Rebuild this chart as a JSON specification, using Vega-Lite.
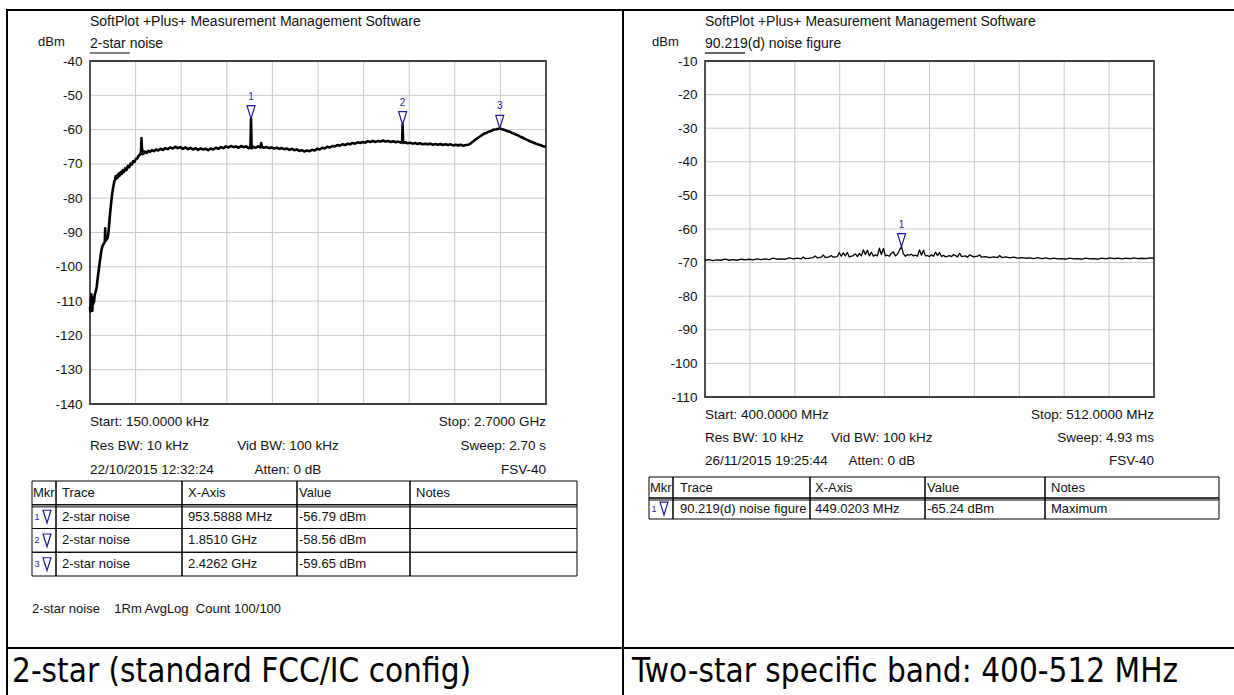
{
"$schema": "https://vega.github.io/schema/vega-lite/v6.json",
"background": "white",
"padding": {"left": 6, "top": 9, "right": 0, "bottom": 0},
"columns": 2,
"spacing": 0,
"bounds": "flush",
"config": {
  "view": {"stroke": "black", "strokeWidth": 2},
  "font": "Liberation Sans",
  "text": {"font": "Liberation Sans", "fontSize": 13.5, "color": "#111111"}
},
"datasets": {
  "left_trace": [
    {"f":0.0002,"v":-111.8},{"f":0.002,"v":-113.0},{"f":0.004,"v":-109.5},{"f":0.006,"v":-112.5},{"f":0.008,"v":-108.0},{"f":0.010,"v":-111.5},{"f":0.012,"v":-110.0},{"f":0.014,"v":-112.8},{"f":0.016,"v":-109.0},{"f":0.018,"v":-111.0},{"f":0.020,"v":-109.6},{"f":0.024,"v":-110.3},{"f":0.028,"v":-108.2},{"f":0.032,"v":-107.6},{"f":0.036,"v":-106.8},{"f":0.040,"v":-105.8},{"f":0.044,"v":-104.0},{"f":0.048,"v":-102.4},{"f":0.052,"v":-100.8},{"f":0.056,"v":-99.4},{"f":0.060,"v":-98.0},{"f":0.064,"v":-96.4},{"f":0.068,"v":-95.2},{"f":0.072,"v":-94.3},{"f":0.076,"v":-93.8},{"f":0.080,"v":-93.4},{"f":0.084,"v":-93.1},{"f":0.088,"v":-92.6},{"f":0.090,"v":-88.8},{"f":0.092,"v":-92.4},{"f":0.096,"v":-92.2},{"f":0.100,"v":-91.9},{"f":0.104,"v":-91.6},{"f":0.108,"v":-90.6},{"f":0.112,"v":-88.6},{"f":0.116,"v":-86.2},{"f":0.120,"v":-84.0},{"f":0.124,"v":-82.0},{"f":0.128,"v":-80.2},{"f":0.132,"v":-78.6},{"f":0.136,"v":-77.2},{"f":0.140,"v":-76.2},{"f":0.144,"v":-75.0},{"f":0.148,"v":-74.8},{"f":0.152,"v":-73.6},{"f":0.156,"v":-74.3},{"f":0.160,"v":-73.4},{"f":0.165,"v":-74.0},{"f":0.170,"v":-72.8},{"f":0.176,"v":-73.4},{"f":0.182,"v":-72.4},{"f":0.188,"v":-72.9},{"f":0.194,"v":-71.9},{"f":0.200,"v":-72.4},{"f":0.208,"v":-71.3},{"f":0.216,"v":-71.8},{"f":0.224,"v":-70.6},{"f":0.232,"v":-71.0},{"f":0.240,"v":-69.9},{"f":0.248,"v":-70.2},{"f":0.256,"v":-69.2},{"f":0.264,"v":-69.4},{"f":0.272,"v":-68.5},{"f":0.280,"v":-68.4},{"f":0.288,"v":-67.6},{"f":0.296,"v":-67.3},{"f":0.302,"v":-66.6},{"f":0.305,"v":-62.5},{"f":0.307,"v":-64.6},{"f":0.309,"v":-67.2},{"f":0.312,"v":-66.1},{"f":0.318,"v":-67.0},{"f":0.326,"v":-66.4},{"f":0.336,"v":-66.8},{"f":0.346,"v":-66.2},{"f":0.356,"v":-66.5},{"f":0.366,"v":-66.0},{"f":0.378,"v":-66.3},{"f":0.390,"v":-65.8},{"f":0.404,"v":-66.1},{"f":0.418,"v":-65.6},{"f":0.432,"v":-65.9},{"f":0.446,"v":-65.4},{"f":0.460,"v":-65.7},{"f":0.474,"v":-65.2},{"f":0.490,"v":-65.5},{"f":0.505,"v":-65.0},{"f":0.520,"v":-65.4},{"f":0.535,"v":-65.1},{"f":0.550,"v":-65.6},{"f":0.565,"v":-65.2},{"f":0.580,"v":-65.7},{"f":0.595,"v":-65.3},{"f":0.610,"v":-65.8},{"f":0.625,"v":-65.4},{"f":0.640,"v":-65.9},{"f":0.655,"v":-65.5},{"f":0.670,"v":-65.8},{"f":0.685,"v":-65.6},{"f":0.700,"v":-66.0},{"f":0.715,"v":-65.5},{"f":0.730,"v":-65.8},{"f":0.745,"v":-65.3},{"f":0.760,"v":-65.6},{"f":0.775,"v":-65.1},{"f":0.790,"v":-65.4},{"f":0.805,"v":-64.9},{"f":0.820,"v":-65.2},{"f":0.835,"v":-64.8},{"f":0.850,"v":-65.1},{"f":0.865,"v":-64.9},{"f":0.880,"v":-65.3},{"f":0.895,"v":-64.8},{"f":0.910,"v":-65.1},{"f":0.925,"v":-64.9},{"f":0.940,"v":-65.4},{"f":0.950,"v":-65.2},{"f":0.9536,"v":-56.79},{"f":0.957,"v":-65.5},{"f":0.965,"v":-65.0},{"f":0.980,"v":-65.3},{"f":0.995,"v":-64.9},{"f":1.010,"v":-65.2},{"f":1.014,"v":-63.9},{"f":1.018,"v":-65.0},{"f":1.030,"v":-65.3},{"f":1.045,"v":-65.1},{"f":1.060,"v":-65.4},{"f":1.075,"v":-65.2},{"f":1.090,"v":-65.5},{"f":1.105,"v":-65.3},{"f":1.120,"v":-65.6},{"f":1.135,"v":-65.4},{"f":1.150,"v":-65.7},{"f":1.165,"v":-65.5},{"f":1.180,"v":-65.9},{"f":1.195,"v":-65.6},{"f":1.210,"v":-66.0},{"f":1.225,"v":-65.8},{"f":1.240,"v":-66.2},{"f":1.255,"v":-66.0},{"f":1.270,"v":-66.4},{"f":1.285,"v":-66.1},{"f":1.300,"v":-66.3},{"f":1.315,"v":-65.9},{"f":1.330,"v":-66.1},{"f":1.345,"v":-65.6},{"f":1.360,"v":-65.8},{"f":1.375,"v":-65.3},{"f":1.390,"v":-65.5},{"f":1.405,"v":-65.0},{"f":1.420,"v":-65.2},{"f":1.435,"v":-64.8},{"f":1.450,"v":-64.9},{"f":1.465,"v":-64.5},{"f":1.480,"v":-64.7},{"f":1.495,"v":-64.3},{"f":1.510,"v":-64.5},{"f":1.525,"v":-64.1},{"f":1.540,"v":-64.3},{"f":1.555,"v":-63.9},{"f":1.570,"v":-64.1},{"f":1.585,"v":-63.7},{"f":1.600,"v":-63.9},{"f":1.615,"v":-63.6},{"f":1.630,"v":-63.8},{"f":1.645,"v":-63.4},{"f":1.660,"v":-63.6},{"f":1.675,"v":-63.3},{"f":1.690,"v":-63.6},{"f":1.705,"v":-63.3},{"f":1.720,"v":-63.5},{"f":1.735,"v":-63.2},{"f":1.750,"v":-63.5},{"f":1.765,"v":-63.3},{"f":1.780,"v":-63.6},{"f":1.795,"v":-63.4},{"f":1.810,"v":-63.7},{"f":1.825,"v":-63.5},{"f":1.840,"v":-63.8},{"f":1.848,"v":-63.6},{"f":1.851,"v":-58.56},{"f":1.854,"v":-63.9},{"f":1.865,"v":-63.7},{"f":1.880,"v":-64.0},{"f":1.895,"v":-63.8},{"f":1.910,"v":-64.1},{"f":1.925,"v":-63.9},{"f":1.940,"v":-64.2},{"f":1.955,"v":-64.0},{"f":1.970,"v":-64.3},{"f":1.985,"v":-64.1},{"f":2.000,"v":-64.3},{"f":2.015,"v":-64.1},{"f":2.030,"v":-64.4},{"f":2.045,"v":-64.2},{"f":2.060,"v":-64.4},{"f":2.075,"v":-64.2},{"f":2.090,"v":-64.5},{"f":2.105,"v":-64.3},{"f":2.120,"v":-64.5},{"f":2.135,"v":-64.3},{"f":2.150,"v":-64.6},{"f":2.165,"v":-64.4},{"f":2.180,"v":-64.6},{"f":2.195,"v":-64.4},{"f":2.210,"v":-64.7},{"f":2.225,"v":-64.5},{"f":2.240,"v":-64.4},{"f":2.255,"v":-64.0},{"f":2.270,"v":-63.4},{"f":2.285,"v":-62.8},{"f":2.300,"v":-62.3},{"f":2.315,"v":-61.8},{"f":2.330,"v":-61.3},{"f":2.345,"v":-61.0},{"f":2.360,"v":-60.6},{"f":2.375,"v":-60.4},{"f":2.390,"v":-60.0},{"f":2.405,"v":-59.9},{"f":2.4262,"v":-59.65},{"f":2.440,"v":-59.9},{"f":2.455,"v":-60.1},{"f":2.470,"v":-60.4},{"f":2.485,"v":-60.6},{"f":2.500,"v":-61.0},{"f":2.515,"v":-61.3},{"f":2.530,"v":-61.6},{"f":2.545,"v":-62.0},{"f":2.560,"v":-62.3},{"f":2.575,"v":-62.7},{"f":2.590,"v":-63.0},{"f":2.605,"v":-63.4},{"f":2.620,"v":-63.7},{"f":2.635,"v":-64.0},{"f":2.650,"v":-64.3},{"f":2.665,"v":-64.5},{"f":2.680,"v":-64.8},{"f":2.700,"v":-65.1}
  ],
  "right_trace": [
    {"f":400,"v":-69.3},{"f":401,"v":-69.1},{"f":402,"v":-69.4},{"f":403,"v":-69.2},{"f":404,"v":-69.3},{"f":405,"v":-69.0},{"f":406,"v":-69.3},{"f":407,"v":-69.1},{"f":408,"v":-69.3},{"f":409,"v":-69.0},{"f":410,"v":-69.2},{"f":411,"v":-69.0},{"f":412,"v":-69.2},{"f":413,"v":-68.9},{"f":414,"v":-69.1},{"f":415,"v":-68.9},{"f":416,"v":-69.1},{"f":417,"v":-68.7},{"f":418,"v":-69.0},{"f":419,"v":-68.9},{"f":420,"v":-69.0},{"f":421,"v":-68.6},{"f":422,"v":-68.9},{"f":423,"v":-68.7},{"f":424,"v":-68.9},{"f":424.5,"v":-68.3},{"f":425,"v":-68.8},{"f":426,"v":-68.7},{"f":427,"v":-68.5},{"f":427.5,"v":-68.0},{"f":428,"v":-68.6},{"f":429,"v":-68.4},{"f":429.5,"v":-67.7},{"f":430,"v":-68.5},{"f":431,"v":-68.3},{"f":431.5,"v":-67.9},{"f":432,"v":-68.4},{"f":433,"v":-68.2},{"f":433.5,"v":-67.0},{"f":434,"v":-68.1},{"f":434.5,"v":-67.1},{"f":435,"v":-68.0},{"f":435.5,"v":-67.0},{"f":436,"v":-68.3},{"f":437,"v":-67.9},{"f":437.5,"v":-67.4},{"f":438,"v":-68.2},{"f":438.5,"v":-67.3},{"f":439,"v":-68.0},{"f":439.5,"v":-66.2},{"f":440,"v":-67.6},{"f":440.5,"v":-66.3},{"f":441,"v":-68.0},{"f":441.5,"v":-66.9},{"f":442,"v":-68.1},{"f":442.5,"v":-67.7},{"f":443,"v":-68.0},{"f":443.5,"v":-65.7},{"f":444,"v":-67.6},{"f":444.5,"v":-65.8},{"f":445,"v":-68.0},{"f":445.5,"v":-67.8},{"f":446,"v":-68.1},{"f":446.5,"v":-67.2},{"f":447,"v":-66.8},{"f":447.5,"v":-68.0},{"f":448,"v":-67.5},{"f":448.5,"v":-66.3},{"f":449.02,"v":-65.24},{"f":449.5,"v":-67.4},{"f":450,"v":-68.1},{"f":450.5,"v":-67.6},{"f":451,"v":-67.8},{"f":451.5,"v":-67.5},{"f":452,"v":-68.0},{"f":452.5,"v":-67.8},{"f":453,"v":-68.1},{"f":453.5,"v":-66.2},{"f":454,"v":-67.8},{"f":454.5,"v":-66.3},{"f":455,"v":-68.0},{"f":455.5,"v":-67.9},{"f":456,"v":-68.2},{"f":456.5,"v":-67.7},{"f":457,"v":-68.1},{"f":457.5,"v":-66.9},{"f":458,"v":-67.9},{"f":458.5,"v":-67.0},{"f":459,"v":-68.2},{"f":459.5,"v":-67.8},{"f":460,"v":-68.3},{"f":461,"v":-67.9},{"f":461.5,"v":-68.2},{"f":462,"v":-67.6},{"f":463,"v":-68.3},{"f":463.5,"v":-67.2},{"f":464,"v":-68.2},{"f":465,"v":-68.0},{"f":465.5,"v":-68.4},{"f":466,"v":-67.7},{"f":467,"v":-68.3},{"f":468,"v":-68.1},{"f":468.5,"v":-67.7},{"f":469,"v":-68.4},{"f":470,"v":-68.2},{"f":471,"v":-68.5},{"f":472,"v":-68.3},{"f":473,"v":-68.5},{"f":473.5,"v":-67.9},{"f":474,"v":-68.5},{"f":475,"v":-68.3},{"f":476,"v":-68.6},{"f":477,"v":-68.4},{"f":478,"v":-68.7},{"f":479,"v":-68.5},{"f":480,"v":-68.7},{"f":481,"v":-68.6},{"f":482,"v":-68.8},{"f":483,"v":-68.5},{"f":484,"v":-68.8},{"f":485,"v":-68.6},{"f":486,"v":-68.9},{"f":487,"v":-68.7},{"f":488,"v":-68.9},{"f":489,"v":-68.8},{"f":490,"v":-69.0},{"f":491,"v":-68.7},{"f":492,"v":-68.9},{"f":493,"v":-68.8},{"f":494,"v":-69.0},{"f":495,"v":-68.7},{"f":496,"v":-68.9},{"f":497,"v":-68.8},{"f":498,"v":-69.0},{"f":499,"v":-68.7},{"f":500,"v":-68.9},{"f":501,"v":-68.6},{"f":502,"v":-68.8},{"f":503,"v":-68.7},{"f":504,"v":-68.9},{"f":505,"v":-68.7},{"f":506,"v":-68.8},{"f":507,"v":-68.6},{"f":508,"v":-68.8},{"f":509,"v":-68.7},{"f":510,"v":-68.8},{"f":511,"v":-68.6},{"f":512,"v":-68.7}
  ],
  "left_markers": [
    {"mkr":"1","f":0.9535888,"v":-56.79},
    {"mkr":"2","f":1.851,"v":-58.56},
    {"mkr":"3","f":2.4262,"v":-59.65}
  ],
  "right_markers": [
    {"mkr":"1","f":449.0203,"v":-65.24}
  ],
  "left_table": [
    {"row":0,"mkr":"Mkr","n":"","trace":"Trace","xaxis":"X-Axis","value":"Value","notes":"Notes"},
    {"row":1,"mkr":"","n":"1","trace":"2-star noise","xaxis":"953.5888 MHz","value":"-56.79 dBm","notes":""},
    {"row":2,"mkr":"","n":"2","trace":"2-star noise","xaxis":"1.8510 GHz","value":"-58.56 dBm","notes":""},
    {"row":3,"mkr":"","n":"3","trace":"2-star noise","xaxis":"2.4262 GHz","value":"-59.65 dBm","notes":""}
  ],
  "right_table": [
    {"row":0,"mkr":"Mkr","n":"","trace":"Trace","xaxis":"X-Axis","value":"Value","notes":"Notes"},
    {"row":1,"mkr":"","n":"1","trace":"90.219(d) noise figure","xaxis":"449.0203 MHz","value":"-65.24 dBm","notes":"Maximum"}
  ]
},
"concat": [
  {
   "width": 616, "height": 638,
   "resolve": {"scale": {"x": "independent", "y": "independent"}},
   "layer": [
      {"data": {"values": [{"v":-50},{"v":-60},{"v":-70},{"v":-80},{"v":-90},{"v":-100},{"v":-110},{"v":-120},{"v":-130}]},
       "mark": {"type": "rule", "color": "#c8c8c8", "strokeWidth": 1},
       "encoding": {
         "y": {"field": "v", "type": "quantitative", "scale": {"domain": [-140,-40], "range": [394,51], "nice": false, "zero": false},
               "axis": {"orient": "left", "offset": -83, "values": [-40,-50,-60,-70,-80,-90,-100,-110,-120,-130,-140], "labelExpr": "'' + datum.value", "domain": false, "ticks": false, "grid": false, "labelFont": "Liberation Sans", "labelFontSize": 13.5, "labelColor": "#111111", "labelPadding": 8, "title": null}},
         "x": {"datum": 0.00015, "scale": {"domain": [0.00015,2.7], "range": [83,539], "nice": false, "zero": false}, "axis": null},
         "x2": {"datum": 2.7}
       }},
      {"data": {"values": [{"f":0.270135},{"f":0.54012},{"f":0.810105},{"f":1.08009},{"f":1.350075},{"f":1.62006},{"f":1.890045},{"f":2.16003},{"f":2.430015}]},
       "mark": {"type": "rule", "color": "#c8c8c8", "strokeWidth": 1},
       "encoding": {
         "x": {"field": "f", "type": "quantitative", "scale": {"domain": [0.00015,2.7], "range": [83,539], "nice": false, "zero": false}, "axis": null},
         "y": {"datum": -140, "scale": {"domain": [-140,-40], "range": [394,51], "nice": false, "zero": false}, "axis": null},
         "y2": {"datum": -40}
       }},
      {"data": {"values": [{}]},
       "mark": {"type": "rect", "fillOpacity": 0, "stroke": "#404040", "strokeWidth": 1.8},
       "encoding": {
         "x": {"datum": 0.00015, "scale": {"domain": [0.00015,2.7], "range": [83,539], "nice": false, "zero": false}, "axis": null},
         "x2": {"datum": 2.7},
         "y": {"datum": -140, "scale": {"domain": [-140,-40], "range": [394,51], "nice": false, "zero": false}, "axis": null},
         "y2": {"datum": -40}
       }},
      {"data": {"name": "left_trace"},
       "mark": {"type": "line", "color": "black", "strokeWidth": 2.6, "strokeJoin": "round"},
       "encoding": {
         "x": {"field": "f", "type": "quantitative", "scale": {"domain": [0.00015,2.7], "range": [83,539], "nice": false, "zero": false}, "axis": null},
         "y": {"field": "v", "type": "quantitative", "scale": {"domain": [-140,-40], "range": [394,51], "nice": false, "zero": false}, "axis": null}
       }},
      {"data": {"name": "left_markers"},
       "mark": {"type": "point", "shape": "M-1,-3.25L1,-3.25L0,0Z", "size": 64, "filled": false, "stroke": "#1c1c96", "strokeWidth": 1.2, "opacity": 1},
       "encoding": {
         "x": {"field": "f", "type": "quantitative", "scale": {"domain": [0.00015,2.7], "range": [83,539], "nice": false, "zero": false}, "axis": null},
         "y": {"field": "v", "type": "quantitative", "scale": {"domain": [-140,-40], "range": [394,51], "nice": false, "zero": false}, "axis": null}
       }},
      {"data": {"name": "left_markers"},
       "mark": {"type": "text", "baseline": "bottom", "align": "center", "dy": -17, "fontSize": 10, "color": "#1c1c96"},
       "encoding": {
         "x": {"field": "f", "type": "quantitative", "scale": {"domain": [0.00015,2.7], "range": [83,539], "nice": false, "zero": false}, "axis": null},
         "y": {"field": "v", "type": "quantitative", "scale": {"domain": [-140,-40], "range": [394,51], "nice": false, "zero": false}, "axis": null},
         "text": {"field": "mkr"}
       }},
      {"data": {"values": [{"t": "SoftPlot +Plus+ Measurement Management Software"}]},
       "mark": {"type": "text", "align": "left", "baseline": "middle", "dy": -39, "fontSize": 14},
       "encoding": {
         "x": {"datum": 0.00015, "scale": {"domain": [0.00015,2.7], "range": [83,539], "nice": false, "zero": false}, "axis": null},
         "y": {"datum": -40, "scale": {"domain": [-140,-40], "range": [394,51], "nice": false, "zero": false}, "axis": null},
         "text": {"field": "t"}
       }},
      {"data": {"values": [{"t": "dBm"}]},
       "mark": {"type": "text", "align": "left", "baseline": "middle", "dx": -52, "dy": -19, "fontSize": 13},
       "encoding": {
         "x": {"datum": 0.00015, "scale": {"domain": [0.00015,2.7], "range": [83,539], "nice": false, "zero": false}, "axis": null},
         "y": {"datum": -40, "scale": {"domain": [-140,-40], "range": [394,51], "nice": false, "zero": false}, "axis": null},
         "text": {"field": "t"}
       }},
      {"data": {"values": [{"t": "2-star noise"}]},
       "mark": {"type": "text", "align": "left", "baseline": "middle", "dy": -17, "fontSize": 14},
       "encoding": {
         "x": {"datum": 0.00015, "scale": {"domain": [0.00015,2.7], "range": [83,539], "nice": false, "zero": false}, "axis": null},
         "y": {"datum": -40, "scale": {"domain": [-140,-40], "range": [394,51], "nice": false, "zero": false}, "axis": null},
         "text": {"field": "t"}
       }},
      {"data": {"values": [{}]},
       "mark": {"type": "rule", "color": "#555555", "strokeWidth": 1.3},
       "encoding": {
         "x": {"datum": 0.00015, "scale": {"domain": [0.00015,2.7], "range": [83,539], "nice": false, "zero": false}, "axis": null},
         "x2": {"datum": 0.237},
         "y": {"datum": -37.67, "scale": {"domain": [-140,-40], "range": [394,51], "nice": false, "zero": false}, "axis": null}
       }},
      {"data": {"values": [{"t": ["Start: 150.0000 kHz", "Res BW: 10 kHz", "22/10/2015 12:32:24"]}]},
       "mark": {"type": "text", "align": "left", "baseline": "top", "dy": 11, "lineHeight": 24},
       "encoding": {
         "x": {"datum": 0.00015, "scale": {"domain": [0.00015,2.7], "range": [83,539], "nice": false, "zero": false}, "axis": null},
         "y": {"datum": -140, "scale": {"domain": [-140,-40], "range": [394,51], "nice": false, "zero": false}, "axis": null},
         "text": {"field": "t"}
       }},
      {"data": {"values": [{"t": ["", "Vid BW: 100 kHz", "Atten: 0 dB"]}]},
       "mark": {"type": "text", "align": "center", "baseline": "top", "dy": 11, "lineHeight": 24},
       "encoding": {
         "x": {"datum": 1.172, "scale": {"domain": [0.00015,2.7], "range": [83,539], "nice": false, "zero": false}, "axis": null},
         "y": {"datum": -140, "scale": {"domain": [-140,-40], "range": [394,51], "nice": false, "zero": false}, "axis": null},
         "text": {"field": "t"}
       }},
      {"data": {"values": [{"t": ["Stop: 2.7000 GHz", "Sweep: 2.70 s", "FSV-40"]}]},
       "mark": {"type": "text", "align": "right", "baseline": "top", "dy": 11, "lineHeight": 24},
       "encoding": {
         "x": {"datum": 2.7, "scale": {"domain": [0.00015,2.7], "range": [83,539], "nice": false, "zero": false}, "axis": null},
         "y": {"datum": -140, "scale": {"domain": [-140,-40], "range": [394,51], "nice": false, "zero": false}, "axis": null},
         "text": {"field": "t"}
       }},
      {"data": {"name": "left_table"},
       "mark": {"type": "rect", "fillOpacity": 0, "stroke": "black", "strokeWidth": 1},
       "encoding": {
         "y": {"field": "row", "type": "ordinal", "scale": {"type": "band", "domain": [0,1,2,3], "range": [471,566], "paddingInner": 0, "paddingOuter": 0}, "axis": null},
         "x": {"datum": 0, "scale": {"domain": [0,545], "range": [25,570], "nice": false, "zero": false}, "axis": null},
         "x2": {"datum": 24}
       }},
      {"data": {"name": "left_table"},
       "mark": {"type": "rect", "fillOpacity": 0, "stroke": "black", "strokeWidth": 1},
       "encoding": {
         "y": {"field": "row", "type": "ordinal", "scale": {"type": "band", "domain": [0,1,2,3], "range": [471,566], "paddingInner": 0, "paddingOuter": 0}, "axis": null},
         "x": {"datum": 24, "scale": {"domain": [0,545], "range": [25,570], "nice": false, "zero": false}, "axis": null},
         "x2": {"datum": 150}
       }},
      {"data": {"name": "left_table"},
       "mark": {"type": "rect", "fillOpacity": 0, "stroke": "black", "strokeWidth": 1},
       "encoding": {
         "y": {"field": "row", "type": "ordinal", "scale": {"type": "band", "domain": [0,1,2,3], "range": [471,566], "paddingInner": 0, "paddingOuter": 0}, "axis": null},
         "x": {"datum": 150, "scale": {"domain": [0,545], "range": [25,570], "nice": false, "zero": false}, "axis": null},
         "x2": {"datum": 265}
       }},
      {"data": {"name": "left_table"},
       "mark": {"type": "rect", "fillOpacity": 0, "stroke": "black", "strokeWidth": 1},
       "encoding": {
         "y": {"field": "row", "type": "ordinal", "scale": {"type": "band", "domain": [0,1,2,3], "range": [471,566], "paddingInner": 0, "paddingOuter": 0}, "axis": null},
         "x": {"datum": 265, "scale": {"domain": [0,545], "range": [25,570], "nice": false, "zero": false}, "axis": null},
         "x2": {"datum": 378}
       }},
      {"data": {"name": "left_table"},
       "mark": {"type": "rect", "fillOpacity": 0, "stroke": "black", "strokeWidth": 1},
       "encoding": {
         "y": {"field": "row", "type": "ordinal", "scale": {"type": "band", "domain": [0,1,2,3], "range": [471,566], "paddingInner": 0, "paddingOuter": 0}, "axis": null},
         "x": {"datum": 378, "scale": {"domain": [0,545], "range": [25,570], "nice": false, "zero": false}, "axis": null},
         "x2": {"datum": 545}
       }},
      {"data": {"values": [{}]},
       "mark": {"type": "rule", "color": "black", "strokeWidth": 1},
       "encoding": {
         "y": {"datum": 1, "type": "ordinal", "bandPosition": 0.09, "scale": {"type": "band", "domain": [0,1,2,3], "range": [471,566], "paddingInner": 0, "paddingOuter": 0}, "axis": null},
         "x": {"datum": 0, "scale": {"domain": [0,545], "range": [25,570], "nice": false, "zero": false}, "axis": null},
         "x2": {"datum": 545}
       }},
      {"data": {"name": "left_table"},
       "mark": {"type": "text", "align": "left", "baseline": "middle", "fontSize": 13},
       "encoding": {
         "y": {"field": "row", "type": "ordinal", "scale": {"type": "band", "domain": [0,1,2,3], "range": [471,566], "paddingInner": 0, "paddingOuter": 0}, "axis": null},
         "x": {"datum": 1, "scale": {"domain": [0,545], "range": [25,570], "nice": false, "zero": false}, "axis": null},
         "text": {"field": "mkr"}
       }},
      {"data": {"name": "left_table"},
       "mark": {"type": "text", "align": "center", "baseline": "middle", "fontSize": 9, "color": "#1c1c96"},
       "encoding": {
         "y": {"field": "row", "type": "ordinal", "scale": {"type": "band", "domain": [0,1,2,3], "range": [471,566], "paddingInner": 0, "paddingOuter": 0}, "axis": null},
         "x": {"datum": 5, "scale": {"domain": [0,545], "range": [25,570], "nice": false, "zero": false}, "axis": null},
         "text": {"field": "n"}
       }},
      {"data": {"name": "left_table"},
       "transform": [{"filter": "datum.row > 0"}],
       "mark": {"type": "point", "shape": "M-1,-1.6L1,-1.6L0,1.6Z", "size": 64, "filled": false, "stroke": "#1c1c96", "strokeWidth": 1.2, "opacity": 1},
       "encoding": {
         "y": {"field": "row", "type": "ordinal", "scale": {"type": "band", "domain": [0,1,2,3], "range": [471,566], "paddingInner": 0, "paddingOuter": 0}, "axis": null},
         "x": {"datum": 15, "scale": {"domain": [0,545], "range": [25,570], "nice": false, "zero": false}, "axis": null}
       }},
      {"data": {"name": "left_table"},
       "mark": {"type": "text", "align": "left", "baseline": "middle", "fontSize": 13},
       "encoding": {
         "y": {"field": "row", "type": "ordinal", "scale": {"type": "band", "domain": [0,1,2,3], "range": [471,566], "paddingInner": 0, "paddingOuter": 0}, "axis": null},
         "x": {"datum": 30, "scale": {"domain": [0,545], "range": [25,570], "nice": false, "zero": false}, "axis": null},
         "text": {"field": "trace"}
       }},
      {"data": {"name": "left_table"},
       "mark": {"type": "text", "align": "left", "baseline": "middle", "fontSize": 13},
       "encoding": {
         "y": {"field": "row", "type": "ordinal", "scale": {"type": "band", "domain": [0,1,2,3], "range": [471,566], "paddingInner": 0, "paddingOuter": 0}, "axis": null},
         "x": {"datum": 156, "scale": {"domain": [0,545], "range": [25,570], "nice": false, "zero": false}, "axis": null},
         "text": {"field": "xaxis"}
       }},
      {"data": {"name": "left_table"},
       "mark": {"type": "text", "align": "left", "baseline": "middle", "fontSize": 13},
       "encoding": {
         "y": {"field": "row", "type": "ordinal", "scale": {"type": "band", "domain": [0,1,2,3], "range": [471,566], "paddingInner": 0, "paddingOuter": 0}, "axis": null},
         "x": {"datum": 267, "scale": {"domain": [0,545], "range": [25,570], "nice": false, "zero": false}, "axis": null},
         "text": {"field": "value"}
       }},
      {"data": {"name": "left_table"},
       "mark": {"type": "text", "align": "left", "baseline": "middle", "fontSize": 13},
       "encoding": {
         "y": {"field": "row", "type": "ordinal", "scale": {"type": "band", "domain": [0,1,2,3], "range": [471,566], "paddingInner": 0, "paddingOuter": 0}, "axis": null},
         "x": {"datum": 384, "scale": {"domain": [0,545], "range": [25,570], "nice": false, "zero": false}, "axis": null},
         "text": {"field": "notes"}
       }},
      {"data": {"values": [{"t": "2-star noise\u00a0\u00a0\u00a0\u00a01Rm AvgLog\u00a0\u00a0Count 100/100"}]},
       "mark": {"type": "text", "align": "left", "baseline": "middle", "fontSize": 13, "dy": 33},
       "encoding": {
         "y": {"datum": 3, "type": "ordinal", "bandPosition": 1, "scale": {"type": "band", "domain": [0,1,2,3], "range": [471,566], "paddingInner": 0, "paddingOuter": 0}, "axis": null},
         "x": {"datum": 0, "scale": {"domain": [0,545], "range": [25,570], "nice": false, "zero": false}, "axis": null},
         "text": {"field": "t"}
       }}
   ]
  },
  {
   "width": 612, "height": 638,
   "resolve": {"scale": {"x": "independent", "y": "independent"}},
   "layer": [
      {"data": {"values": [{"v":-20},{"v":-30},{"v":-40},{"v":-50},{"v":-60},{"v":-70},{"v":-80},{"v":-90},{"v":-100}]},
       "mark": {"type": "rule", "color": "#c8c8c8", "strokeWidth": 1},
       "encoding": {
         "y": {"field": "v", "type": "quantitative", "scale": {"domain": [-110,-10], "range": [387,51], "nice": false, "zero": false},
               "axis": {"orient": "left", "offset": -82, "values": [-10,-20,-30,-40,-50,-60,-70,-80,-90,-100,-110], "labelExpr": "'' + datum.value", "domain": false, "ticks": false, "grid": false, "labelFont": "Liberation Sans", "labelFontSize": 13.5, "labelColor": "#111111", "labelPadding": 8, "title": null}},
         "x": {"datum": 400, "scale": {"domain": [400,512], "range": [82,531], "nice": false, "zero": false}, "axis": null},
         "x2": {"datum": 512}
       }},
      {"data": {"values": [{"f":411.2},{"f":422.4},{"f":433.6},{"f":444.8},{"f":456},{"f":467.2},{"f":478.4},{"f":489.6},{"f":500.8}]},
       "mark": {"type": "rule", "color": "#c8c8c8", "strokeWidth": 1},
       "encoding": {
         "x": {"field": "f", "type": "quantitative", "scale": {"domain": [400,512], "range": [82,531], "nice": false, "zero": false}, "axis": null},
         "y": {"datum": -110, "scale": {"domain": [-110,-10], "range": [387,51], "nice": false, "zero": false}, "axis": null},
         "y2": {"datum": -10}
       }},
      {"data": {"values": [{}]},
       "mark": {"type": "rect", "fillOpacity": 0, "stroke": "#404040", "strokeWidth": 1.8},
       "encoding": {
         "x": {"datum": 400, "scale": {"domain": [400,512], "range": [82,531], "nice": false, "zero": false}, "axis": null},
         "x2": {"datum": 512},
         "y": {"datum": -110, "scale": {"domain": [-110,-10], "range": [387,51], "nice": false, "zero": false}, "axis": null},
         "y2": {"datum": -10}
       }},
      {"data": {"name": "right_trace"},
       "mark": {"type": "line", "color": "black", "strokeWidth": 1.3, "strokeJoin": "round"},
       "encoding": {
         "x": {"field": "f", "type": "quantitative", "scale": {"domain": [400,512], "range": [82,531], "nice": false, "zero": false}, "axis": null},
         "y": {"field": "v", "type": "quantitative", "scale": {"domain": [-110,-10], "range": [387,51], "nice": false, "zero": false}, "axis": null}
       }},
      {"data": {"name": "right_markers"},
       "mark": {"type": "point", "shape": "M-1,-3.25L1,-3.25L0,0Z", "size": 64, "filled": false, "stroke": "#1c1c96", "strokeWidth": 1.2, "opacity": 1},
       "encoding": {
         "x": {"field": "f", "type": "quantitative", "scale": {"domain": [400,512], "range": [82,531], "nice": false, "zero": false}, "axis": null},
         "y": {"field": "v", "type": "quantitative", "scale": {"domain": [-110,-10], "range": [387,51], "nice": false, "zero": false}, "axis": null}
       }},
      {"data": {"name": "right_markers"},
       "mark": {"type": "text", "baseline": "bottom", "align": "center", "dy": -17, "fontSize": 10, "color": "#1c1c96"},
       "encoding": {
         "x": {"field": "f", "type": "quantitative", "scale": {"domain": [400,512], "range": [82,531], "nice": false, "zero": false}, "axis": null},
         "y": {"field": "v", "type": "quantitative", "scale": {"domain": [-110,-10], "range": [387,51], "nice": false, "zero": false}, "axis": null},
         "text": {"field": "mkr"}
       }},
      {"data": {"values": [{"t": "SoftPlot +Plus+ Measurement Management Software"}]},
       "mark": {"type": "text", "align": "left", "baseline": "middle", "dy": -39, "fontSize": 14},
       "encoding": {
         "x": {"datum": 400, "scale": {"domain": [400,512], "range": [82,531], "nice": false, "zero": false}, "axis": null},
         "y": {"datum": -10, "scale": {"domain": [-110,-10], "range": [387,51], "nice": false, "zero": false}, "axis": null},
         "text": {"field": "t"}
       }},
      {"data": {"values": [{"t": "dBm"}]},
       "mark": {"type": "text", "align": "left", "baseline": "middle", "dx": -53, "dy": -19, "fontSize": 13},
       "encoding": {
         "x": {"datum": 400, "scale": {"domain": [400,512], "range": [82,531], "nice": false, "zero": false}, "axis": null},
         "y": {"datum": -10, "scale": {"domain": [-110,-10], "range": [387,51], "nice": false, "zero": false}, "axis": null},
         "text": {"field": "t"}
       }},
      {"data": {"values": [{"t": "90.219(d) noise figure"}]},
       "mark": {"type": "text", "align": "left", "baseline": "middle", "dy": -17, "fontSize": 14},
       "encoding": {
         "x": {"datum": 400, "scale": {"domain": [400,512], "range": [82,531], "nice": false, "zero": false}, "axis": null},
         "y": {"datum": -10, "scale": {"domain": [-110,-10], "range": [387,51], "nice": false, "zero": false}, "axis": null},
         "text": {"field": "t"}
       }},
      {"data": {"values": [{}]},
       "mark": {"type": "rule", "color": "#333333", "strokeWidth": 1.3},
       "encoding": {
         "x": {"datum": 400, "scale": {"domain": [400,512], "range": [82,531], "nice": false, "zero": false}, "axis": null},
         "x2": {"datum": 410},
         "y": {"datum": -7.62, "scale": {"domain": [-110,-10], "range": [387,51], "nice": false, "zero": false}, "axis": null}
       }},
      {"data": {"values": [{"t": ["Start: 400.0000 MHz", "Res BW: 10 kHz", "26/11/2015 19:25:44"]}]},
       "mark": {"type": "text", "align": "left", "baseline": "top", "dy": 11, "lineHeight": 23},
       "encoding": {
         "x": {"datum": 400, "scale": {"domain": [400,512], "range": [82,531], "nice": false, "zero": false}, "axis": null},
         "y": {"datum": -110, "scale": {"domain": [-110,-10], "range": [387,51], "nice": false, "zero": false}, "axis": null},
         "text": {"field": "t"}
       }},
      {"data": {"values": [{"t": ["", "Vid BW: 100 kHz", "Atten: 0 dB"]}]},
       "mark": {"type": "text", "align": "center", "baseline": "top", "dy": 11, "lineHeight": 23},
       "encoding": {
         "x": {"datum": 444.1, "scale": {"domain": [400,512], "range": [82,531], "nice": false, "zero": false}, "axis": null},
         "y": {"datum": -110, "scale": {"domain": [-110,-10], "range": [387,51], "nice": false, "zero": false}, "axis": null},
         "text": {"field": "t"}
       }},
      {"data": {"values": [{"t": ["Stop: 512.0000 MHz", "Sweep: 4.93 ms", "FSV-40"]}]},
       "mark": {"type": "text", "align": "right", "baseline": "top", "dy": 11, "lineHeight": 23},
       "encoding": {
         "x": {"datum": 512, "scale": {"domain": [400,512], "range": [82,531], "nice": false, "zero": false}, "axis": null},
         "y": {"datum": -110, "scale": {"domain": [-110,-10], "range": [387,51], "nice": false, "zero": false}, "axis": null},
         "text": {"field": "t"}
       }},
      {"data": {"name": "right_table"},
       "mark": {"type": "rect", "fillOpacity": 0, "stroke": "black", "strokeWidth": 1},
       "encoding": {
         "y": {"field": "row", "type": "ordinal", "scale": {"type": "band", "domain": [0,1], "range": [467,509], "paddingInner": 0, "paddingOuter": 0}, "axis": null},
         "x": {"datum": 0, "scale": {"domain": [0,570], "range": [26,596], "nice": false, "zero": false}, "axis": null},
         "x2": {"datum": 24}
       }},
      {"data": {"name": "right_table"},
       "mark": {"type": "rect", "fillOpacity": 0, "stroke": "black", "strokeWidth": 1},
       "encoding": {
         "y": {"field": "row", "type": "ordinal", "scale": {"type": "band", "domain": [0,1], "range": [467,509], "paddingInner": 0, "paddingOuter": 0}, "axis": null},
         "x": {"datum": 24, "scale": {"domain": [0,570], "range": [26,596], "nice": false, "zero": false}, "axis": null},
         "x2": {"datum": 161}
       }},
      {"data": {"name": "right_table"},
       "mark": {"type": "rect", "fillOpacity": 0, "stroke": "black", "strokeWidth": 1},
       "encoding": {
         "y": {"field": "row", "type": "ordinal", "scale": {"type": "band", "domain": [0,1], "range": [467,509], "paddingInner": 0, "paddingOuter": 0}, "axis": null},
         "x": {"datum": 161, "scale": {"domain": [0,570], "range": [26,596], "nice": false, "zero": false}, "axis": null},
         "x2": {"datum": 276}
       }},
      {"data": {"name": "right_table"},
       "mark": {"type": "rect", "fillOpacity": 0, "stroke": "black", "strokeWidth": 1},
       "encoding": {
         "y": {"field": "row", "type": "ordinal", "scale": {"type": "band", "domain": [0,1], "range": [467,509], "paddingInner": 0, "paddingOuter": 0}, "axis": null},
         "x": {"datum": 276, "scale": {"domain": [0,570], "range": [26,596], "nice": false, "zero": false}, "axis": null},
         "x2": {"datum": 396}
       }},
      {"data": {"name": "right_table"},
       "mark": {"type": "rect", "fillOpacity": 0, "stroke": "black", "strokeWidth": 1},
       "encoding": {
         "y": {"field": "row", "type": "ordinal", "scale": {"type": "band", "domain": [0,1], "range": [467,509], "paddingInner": 0, "paddingOuter": 0}, "axis": null},
         "x": {"datum": 396, "scale": {"domain": [0,570], "range": [26,596], "nice": false, "zero": false}, "axis": null},
         "x2": {"datum": 570}
       }},
      {"data": {"values": [{}]},
       "mark": {"type": "rule", "color": "black", "strokeWidth": 1},
       "encoding": {
         "y": {"datum": 1, "type": "ordinal", "bandPosition": 0.095, "scale": {"type": "band", "domain": [0,1], "range": [467,509], "paddingInner": 0, "paddingOuter": 0}, "axis": null},
         "x": {"datum": 0, "scale": {"domain": [0,570], "range": [26,596], "nice": false, "zero": false}, "axis": null},
         "x2": {"datum": 570}
       }},
      {"data": {"name": "right_table"},
       "mark": {"type": "text", "align": "left", "baseline": "middle", "fontSize": 13},
       "encoding": {
         "y": {"field": "row", "type": "ordinal", "scale": {"type": "band", "domain": [0,1], "range": [467,509], "paddingInner": 0, "paddingOuter": 0}, "axis": null},
         "x": {"datum": 1, "scale": {"domain": [0,570], "range": [26,596], "nice": false, "zero": false}, "axis": null},
         "text": {"field": "mkr"}
       }},
      {"data": {"name": "right_table"},
       "mark": {"type": "text", "align": "center", "baseline": "middle", "fontSize": 9, "color": "#1c1c96"},
       "encoding": {
         "y": {"field": "row", "type": "ordinal", "scale": {"type": "band", "domain": [0,1], "range": [467,509], "paddingInner": 0, "paddingOuter": 0}, "axis": null},
         "x": {"datum": 5, "scale": {"domain": [0,570], "range": [26,596], "nice": false, "zero": false}, "axis": null},
         "text": {"field": "n"}
       }},
      {"data": {"name": "right_table"},
       "transform": [{"filter": "datum.row > 0"}],
       "mark": {"type": "point", "shape": "M-1,-1.6L1,-1.6L0,1.6Z", "size": 64, "filled": false, "stroke": "#1c1c96", "strokeWidth": 1.2, "opacity": 1},
       "encoding": {
         "y": {"field": "row", "type": "ordinal", "scale": {"type": "band", "domain": [0,1], "range": [467,509], "paddingInner": 0, "paddingOuter": 0}, "axis": null},
         "x": {"datum": 15, "scale": {"domain": [0,570], "range": [26,596], "nice": false, "zero": false}, "axis": null}
       }},
      {"data": {"name": "right_table"},
       "mark": {"type": "text", "align": "left", "baseline": "middle", "fontSize": 13},
       "encoding": {
         "y": {"field": "row", "type": "ordinal", "scale": {"type": "band", "domain": [0,1], "range": [467,509], "paddingInner": 0, "paddingOuter": 0}, "axis": null},
         "x": {"datum": 31, "scale": {"domain": [0,570], "range": [26,596], "nice": false, "zero": false}, "axis": null},
         "text": {"field": "trace"}
       }},
      {"data": {"name": "right_table"},
       "mark": {"type": "text", "align": "left", "baseline": "middle", "fontSize": 13},
       "encoding": {
         "y": {"field": "row", "type": "ordinal", "scale": {"type": "band", "domain": [0,1], "range": [467,509], "paddingInner": 0, "paddingOuter": 0}, "axis": null},
         "x": {"datum": 166, "scale": {"domain": [0,570], "range": [26,596], "nice": false, "zero": false}, "axis": null},
         "text": {"field": "xaxis"}
       }},
      {"data": {"name": "right_table"},
       "mark": {"type": "text", "align": "left", "baseline": "middle", "fontSize": 13},
       "encoding": {
         "y": {"field": "row", "type": "ordinal", "scale": {"type": "band", "domain": [0,1], "range": [467,509], "paddingInner": 0, "paddingOuter": 0}, "axis": null},
         "x": {"datum": 278, "scale": {"domain": [0,570], "range": [26,596], "nice": false, "zero": false}, "axis": null},
         "text": {"field": "value"}
       }},
      {"data": {"name": "right_table"},
       "mark": {"type": "text", "align": "left", "baseline": "middle", "fontSize": 13},
       "encoding": {
         "y": {"field": "row", "type": "ordinal", "scale": {"type": "band", "domain": [0,1], "range": [467,509], "paddingInner": 0, "paddingOuter": 0}, "axis": null},
         "x": {"datum": 402, "scale": {"domain": [0,570], "range": [26,596], "nice": false, "zero": false}, "axis": null},
         "text": {"field": "notes"}
       }}
   ]
  },
  {"width": 616, "height": 48,
   "data": {"values": [{"t": "2-star (standard FCC/IC config)"}]},
   "mark": {"type": "text", "align": "left", "baseline": "middle", "font": "DejaVu Sans Condensed, DejaVu Sans", "fontSize": 33, "dx": 5, "color": "black"},
   "encoding": {"x": {"datum": 0, "scale": {"domain": [0, 1]}, "axis": null}, "text": {"field": "t"}}},
  {"width": 612, "height": 48,
   "data": {"values": [{"t": "Two-star specific band: 400-512 MHz"}]},
   "mark": {"type": "text", "align": "left", "baseline": "middle", "font": "DejaVu Sans Condensed, DejaVu Sans", "fontSize": 33, "dx": 9, "color": "black"},
   "encoding": {"x": {"datum": 0, "scale": {"domain": [0, 1]}, "axis": null}, "text": {"field": "t"}}}
]
}
